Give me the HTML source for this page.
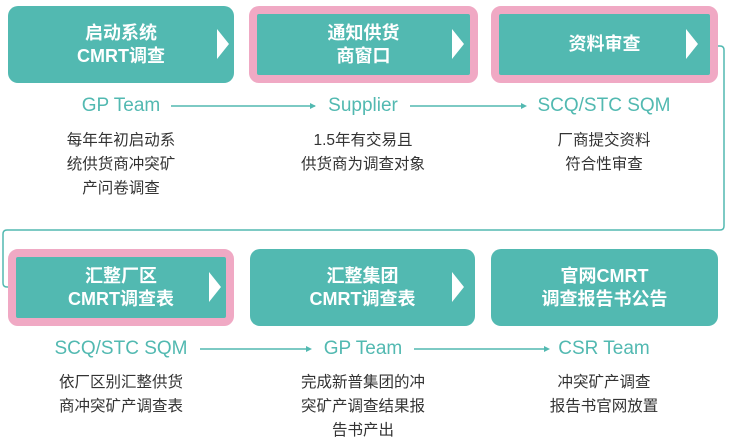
<!DOCTYPE html>
<html><head><meta charset="utf-8"><style>
body{margin:0;width:729px;height:447px;background:#fff;position:relative;overflow:hidden;font-family:"Liberation Sans","Noto Sans CJK SC",sans-serif}
.b{position:absolute;background:#52b9b1;border-radius:10px;color:#fff;font-weight:bold;font-size:18px;line-height:23px;display:flex;align-items:center;justify-content:center;text-align:center;box-sizing:border-box}
.p{border:8px solid #f0a9c4;border-radius:10px}
.t{position:absolute;width:0;height:0;border-top:15px solid transparent;border-bottom:15px solid transparent;border-left:12px solid #fff}
.l{position:absolute;color:#52b9b1;font-size:19px;text-align:center;width:220px;line-height:20px}
.d{position:absolute;color:#333;font-size:15.5px;text-align:center;width:220px;line-height:24px}
</style></head><body>
<svg width="729" height="447" style="position:absolute;left:0;top:0">
<g fill="none" stroke="#52b9b1" stroke-width="1.5">
<path d="M716 46 H720 Q724 46 724 50 V226 Q724 230 720 230 H7 Q3 230 3 234 V283 Q3 287 7 287 H10"/>
<line x1="171" y1="106" x2="315" y2="106"/><line x1="410" y1="106" x2="525" y2="106"/>
<line x1="200" y1="349" x2="310" y2="349"/><line x1="414" y1="349" x2="548" y2="349"/>
</g>
<g fill="#52b9b1"><path d="M316 106 l-6 -3 v6z"/><path d="M527 106 l-6 -3 v6z"/><path d="M312 349 l-6 -3 v6z"/><path d="M550 349 l-6 -3 v6z"/></g>
</svg>
<div class="b" style="left:8px;top:6px;width:226px;height:77px">启动系统<br>CMRT调查</div><div class="t" style="left:217px;top:29px"></div>
<div class="b p" style="left:249px;top:6px;width:229px;height:77px">通知供货<br>商窗口</div><div class="t" style="left:452px;top:29px"></div>
<div class="b p" style="left:491px;top:6px;width:227px;height:77px">资料审查</div><div class="t" style="left:686px;top:29px"></div>
<div class="b p" style="left:8px;top:249px;width:226px;height:77px">汇整厂区<br>CMRT调查表</div><div class="t" style="left:209px;top:272px"></div>
<div class="b" style="left:250px;top:249px;width:225px;height:77px">汇整集团<br>CMRT调查表</div><div class="t" style="left:452px;top:272px"></div>
<div class="b" style="left:491px;top:249px;width:227px;height:77px">官网CMRT<br>调查报告书公告</div>
<div class="l" style="left:11px;top:96px">GP Team</div>
<div class="l" style="left:253px;top:96px">Supplier</div>
<div class="l" style="left:494px;top:96px">SCQ/STC SQM</div>
<div class="d" style="left:11px;top:129px">每年年初启动系<br>统供货商冲突矿<br>产问卷调查</div>
<div class="d" style="left:253px;top:129px">1.5年有交易且<br>供货商为调查对象</div>
<div class="d" style="left:494px;top:129px">厂商提交资料<br>符合性审查</div>
<div class="l" style="left:11px;top:339px">SCQ/STC SQM</div>
<div class="l" style="left:253px;top:339px">GP Team</div>
<div class="l" style="left:494px;top:339px">CSR Team</div>
<div class="d" style="left:11px;top:371px">依厂区别汇整供货<br>商冲突矿产调查表</div>
<div class="d" style="left:253px;top:371px">完成新普集团的冲<br>突矿产调查结果报<br>告书产出</div>
<div class="d" style="left:494px;top:371px">冲突矿产调查<br>报告书官网放置</div>
</body></html>
